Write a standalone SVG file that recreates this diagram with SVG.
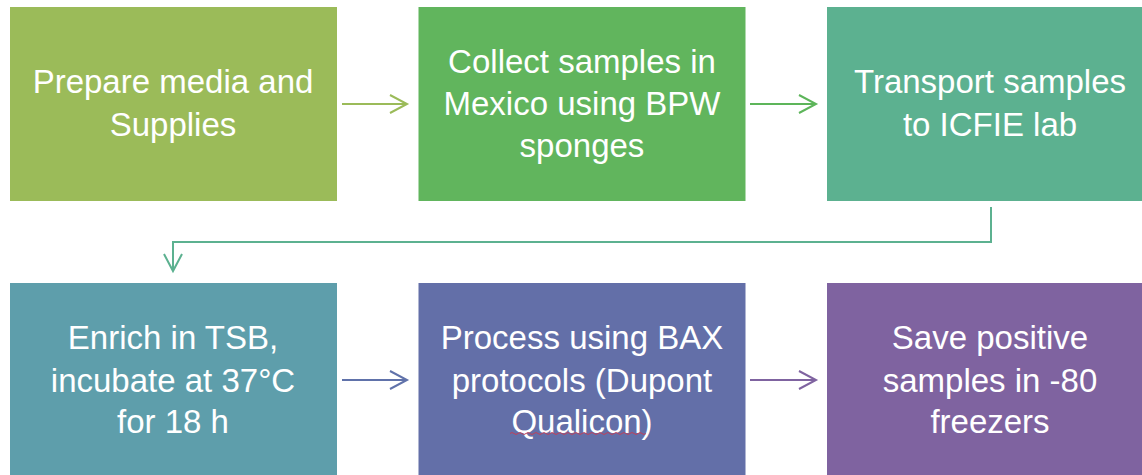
<svg xmlns="http://www.w3.org/2000/svg" width="1142" height="475" viewBox="0 0 1142 475">
<style>
.box text{font-family:"Liberation Sans",Arial,sans-serif;font-size:33px;fill:#ffffff;text-anchor:middle}
.conn{fill:none;stroke-width:2}
</style>
<defs>
<marker id="a1" markerUnits="userSpaceOnUse" markerWidth="22" markerHeight="24" refX="18" refY="11" orient="auto"><path d="M1,2 L18,11 L1,20" fill="none" stroke="#9BBB59" stroke-width="2"/></marker>
<marker id="a2" markerUnits="userSpaceOnUse" markerWidth="22" markerHeight="24" refX="18" refY="11" orient="auto"><path d="M1,2 L18,11 L1,20" fill="none" stroke="#5DB55A" stroke-width="2"/></marker>
<marker id="a3" markerUnits="userSpaceOnUse" markerWidth="22" markerHeight="24" refX="18" refY="11" orient="auto"><path d="M1,2 L18,11 L1,20" fill="none" stroke="#5CB190" stroke-width="2"/></marker>
<marker id="a4" markerUnits="userSpaceOnUse" markerWidth="22" markerHeight="24" refX="18" refY="11" orient="auto"><path d="M1,2 L18,11 L1,20" fill="none" stroke="#6072AA" stroke-width="2"/></marker>
<marker id="a5" markerUnits="userSpaceOnUse" markerWidth="22" markerHeight="24" refX="18" refY="11" orient="auto"><path d="M1,2 L18,11 L1,20" fill="none" stroke="#7F63A0" stroke-width="2"/></marker>
</defs>
<rect width="1142" height="475" fill="#ffffff"/>
<g id="n1" class="box"><rect x="10" y="7" width="327" height="194" fill="#9BBB59"/><text x="173" y="93">Prepare media and</text><text x="173" y="136">Supplies</text></g>
<g id="n2" class="box"><rect x="418.5" y="7" width="327" height="194" fill="#61B55D"/><text x="582" y="73">Collect samples in</text><text x="582" y="115">Mexico using BPW</text><text x="582" y="157">sponges</text></g>
<g id="n3" class="box"><rect x="827" y="7" width="327" height="194" fill="#5CB190"/><text x="990" y="93">Transport samples</text><text x="990" y="136">to ICFIE lab</text></g>
<g id="n4" class="box"><rect x="10" y="283" width="327" height="194" fill="#5E9EAB"/><text x="173" y="349">Enrich in TSB,</text><text x="173" y="392">incubate at 37°C</text><text x="173" y="433">for 18 h</text></g>
<g id="n5" class="box"><rect x="418.5" y="283" width="327" height="194" fill="#636FA8"/><text x="582" y="349">Process using BAX</text><text x="582" y="392">protocols (Dupont</text><text x="582" y="433">Qualicon)</text><path d="M510,433.5 q2,-2 4,0 t4,0 t4,0 t4,0 t4,0 t4,0 t4,0 t4,0 t4,0 t4,0 t4,0 t4,0 t4,0 t4,0 t4,0 t4,0 t4,0 t4,0 t4,0 t4,0 t4,0 t4,0 t4,0 t4,0 t4,0 t4,0 t4,0 t4,0 t4,0 t4,0 t4,0 t4,0 t4,0 t4,0" fill="none" stroke="#C0405A" stroke-width="1"/></g>
<g id="n6" class="box"><rect x="827" y="283" width="327" height="194" fill="#7F63A0"/><text x="990" y="349">Save positive</text><text x="990" y="392">samples in -80</text><text x="990" y="433">freezers</text></g>
<g id="connectors">
<path class="conn" d="M342,104 L407,104" stroke="#9BBB59" marker-end="url(#a1)"/>
<path class="conn" d="M750,104 L816,104" stroke="#5DB55A" marker-end="url(#a2)"/>
<path class="conn" d="M991,207 L991,242 L173,242 L173,271" stroke="#5CB190" marker-end="url(#a3)"/>
<path class="conn" d="M342,380 L407,380" stroke="#6072AA" marker-end="url(#a4)"/>
<path class="conn" d="M750,380 L816,380" stroke="#7F63A0" marker-end="url(#a5)"/>
</g>
</svg>
